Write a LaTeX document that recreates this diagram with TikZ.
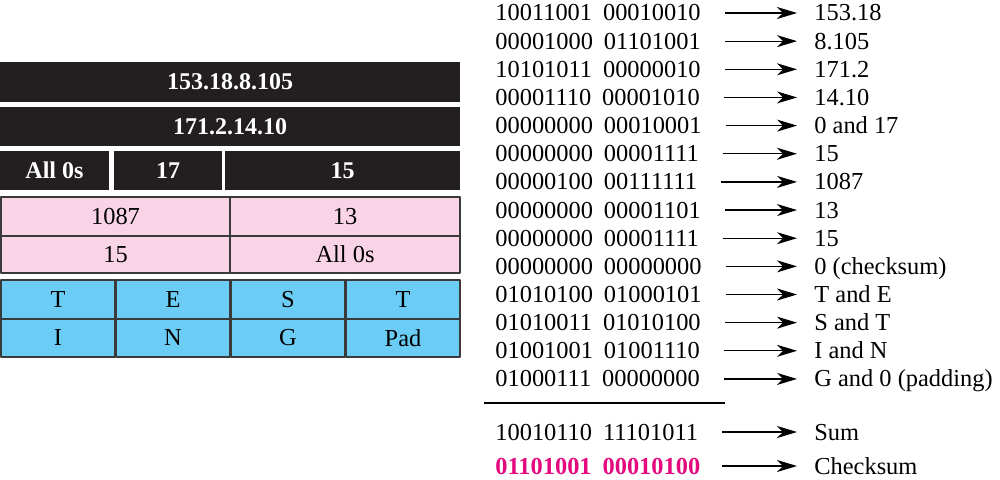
\documentclass[tikz,border=0pt]{standalone}
\usepackage{fontspec}
\setmainfont{Liberation Serif}
\usetikzlibrary{arrows.meta}
\definecolor{hdrblack}{HTML}{231F20}
\definecolor{hdrpink}{HTML}{F9D4E6}
\definecolor{datablue}{HTML}{6BCDF5}
\definecolor{cellline}{HTML}{3A3A3A}
\definecolor{sumred}{HTML}{E5097F}
\begin{document}
\begin{tikzpicture}[x=0.5pt,y=-0.5pt,line join=round,>={Stealth[length=10pt,width=6pt,inset=3pt]}]
	\tikzset{every node/.style={font=\fontsize{12.2}{14}\selectfont,inner sep=0pt},
		blackcell/.style={fill=hdrblack},
		blacktext/.style={text=white,font=\fontsize{12}{14}\selectfont\bfseries},
		pinkcell/.style={fill=hdrpink,draw=cellline,line width=0.6pt},
		bluecell/.style={fill=datablue,draw=cellline,line width=0.6pt},
		conv/.style={->,line width=0.65pt}}
	\useasboundingbox (0,0) rectangle (1000,480);
	% pseudoheader
	\path[blackcell] (0,62) rectangle (460,102) node[midway,blacktext] (srcip) {153.18.8.105};
	\path[blackcell] (0,107) rectangle (460,146) node[midway,blacktext] (dstip) {171.2.14.10};
	\path[blackcell] (0,151) rectangle (109,190) node[midway,blacktext] (zeros) {All 0s};
	\path[blackcell] (114,151) rectangle (222,190) node[midway,blacktext] (proto) {17};
	\path[blackcell] (225,151) rectangle (460,190) node[midway,blacktext] (udplen) {15};
	% header
	\path[pinkcell] (1,197) rectangle (230,236) node[midway] (srcport) {1087};
	\path[pinkcell] (230,197) rectangle (460,236) node[midway] (dstport) {13};
	\path[pinkcell] (1,236) rectangle (230,273) node[midway] (totlen) {15};
	\path[pinkcell] (230,236) rectangle (460,273) node[midway] (cksum) {All 0s};
	% data
	\foreach \c/\ch [count=\k from 0] in {t1/T,e/E,s/S,t2/T}
		\path[bluecell] ({1+\k*115},280) rectangle ({115+\k*115},319) node[midway] (d\c) {\ch};
	\foreach \c/\ch [count=\k from 0] in {i/I,n/N,g/G,pad/Pad}
		\path[bluecell] ({1+\k*115},319) rectangle ({115+\k*115},357) node[midway] (d\c) {\ch};
	% words and sum
	\foreach \hi/\lo/\lab [count=\i] in {10011001/00010010/153.18, 00001000/01101001/8.105,
		10101011/00000010/171.2, 00001110/00001010/14.10, 00000000/00010001/0 and 17,
		00000000/00001111/15, 00000100/00111111/1087, 00000000/00001101/13,
		00000000/00001111/15, 00000000/00000000/0 (checksum), 01010100/01000101/T and E,
		01010011/01010100/S and T, 01001001/01001110/I and N, 01000111/00000000/G and 0 (padding)}
	{
		\node[anchor=base west] (w\i) at (495,{21+(\i-1)*28.15}) {\hi\hspace{5.5pt}\lo};
		\node[anchor=base west] (v\i) at (814,{21+(\i-1)*28.15}) {\lab};
		\draw[conv,shorten <=12pt,shorten >=8.5pt] (w\i.east) -- (w\i.east -| v\i.west);
	}
	\coordinate (rulel) at (484,403);
	\coordinate (ruler) at (725,403);
	\draw[line width=1pt] (rulel) -- (ruler);
	\node[anchor=base west] (wsum) at (495,440) {10010110\hspace{5.5pt}11101011};
	\node[anchor=base west] (vsum) at (814,440) {Sum};
	\draw[conv,shorten <=12pt,shorten >=8.5pt] (wsum.east) -- (wsum.east -| vsum.west);
	\node[anchor=base west,text=sumred,font=\fontsize{12.2}{14}\selectfont\bfseries] (wck) at (495,474) {01101001\hspace{5.5pt}00010100};
	\node[anchor=base west] (vck) at (814,474) {Checksum};
	\draw[conv,shorten >=8.5pt] ([xshift=12pt]wsum.east |- wck.east) -- (wck.east -| vck.west);
\end{tikzpicture}
\end{document}
